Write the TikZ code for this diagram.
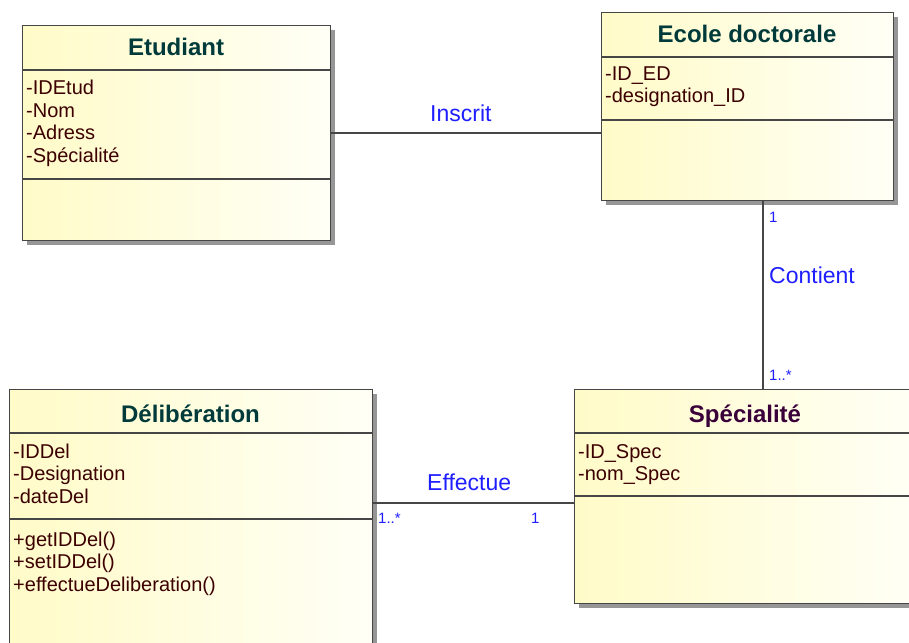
\documentclass[tikz,border=0pt]{standalone}
\usepackage{fontspec}
\setmainfont{Liberation Sans}
\usetikzlibrary{calc,shadows}
\definecolor{hdr}{RGB}{0,58,58}
\definecolor{hdrp}{RGB}{58,0,58}
\definecolor{attr}{RGB}{60,0,0}
\definecolor{lbl}{RGB}{30,30,255}
\definecolor{edgec}{RGB}{70,70,70}
\definecolor{fillA}{RGB}{255,251,200}
\definecolor{fillB}{RGB}{255,255,246}
\definecolor{shadowc}{RGB}{150,150,150}
\begin{document}
\begin{tikzpicture}[x=1pt,y=-1pt,
  classbox/.style={draw=edgec, line width=1.4pt, inner sep=0pt, anchor=north west,
    left color=fillA, right color=fillB,
    drop shadow={shadow xshift=4pt, shadow yshift=-4pt, fill=shadowc, opacity=1}},
  sepline/.style={draw=edgec, line width=1.4pt},
  title/.style={font=\fontsize{24}{28}\selectfont\bfseries, text=hdr, inner sep=0pt, anchor=base},
  attrtxt/.style={font=\fontsize{20}{23}\selectfont, text=attr, inner sep=0pt, anchor=base west},
  assoc/.style={draw=edgec, line width=1.4pt},
  rolelbl/.style={font=\fontsize{23}{26}\selectfont, text=lbl, inner sep=0pt, anchor=base west},
  multlbl/.style={font=\fontsize{15}{18}\selectfont, text=lbl, inner sep=0pt, anchor=base west}]
\useasboundingbox (0,0) rectangle (909,642);
\clip (0,0) rectangle (909,642);

% Etudiant
\node[classbox, minimum width=308pt, minimum height=215pt] (etud) at (22,25) {};
\draw[sepline] ($(etud.north west)+(0,45)$) -- ($(etud.north east)+(0,45)$);
\draw[sepline] ($(etud.north west)+(0,154)$) -- ($(etud.north east)+(0,154)$);
\node[title] (etudT) at (176,56) {Etudiant};
\node[attrtxt] (etudA1) at (26,94) {-IDEtud};
\node[attrtxt] (etudA2) at (26,117) {-Nom};
\node[attrtxt] (etudA3) at (26,139.5) {-Adress};
\node[attrtxt] (etudA4) at (26,162) {-Spécialité};

% Ecole doctorale
\node[classbox, minimum width=292pt, minimum height=188pt] (ecole) at (601,12) {};
\draw[sepline] ($(ecole.north west)+(0,45)$) -- ($(ecole.north east)+(0,45)$);
\draw[sepline] ($(ecole.north west)+(0,108)$) -- ($(ecole.north east)+(0,108)$);
\node[title] (ecoleT) at (747,43) {Ecole doctorale};
\node[attrtxt] (ecoleA1) at (605,80) {-ID\_ED};
\node[attrtxt] (ecoleA2) at (605,102.5) {-designation\_ID};

% Deliberation
\node[classbox, minimum width=363pt, minimum height=300pt] (delib) at (9,389) {};
\draw[sepline] ($(delib.north west)+(0,44)$) -- ($(delib.north east)+(0,44)$);
\draw[sepline] ($(delib.north west)+(0,130)$) -- ($(delib.north east)+(0,130)$);
\node[title] (delibT) at (190.5,422) {Délibération};
\node[attrtxt] (delibA1) at (13,458) {-IDDel};
\node[attrtxt] (delibA2) at (13,480.5) {-Designation};
\node[attrtxt] (delibA3) at (13,503) {-dateDel};
\node[attrtxt] (delibO1) at (13,546) {+getIDDel()};
\node[attrtxt] (delibO2) at (13,568.5) {+setIDDel()};
\node[attrtxt] (delibO3) at (13,591) {+effectueDeliberation()};

% Specialite
\node[classbox, minimum width=344pt, minimum height=214pt] (spec) at (574,389) {};
\draw[sepline] ($(spec.north west)+(0,44)$) -- ($(spec.north east)+(0,44)$);
\draw[sepline] ($(spec.north west)+(0,107)$) -- ($(spec.north east)+(0,107)$);
\node[title, text=hdrp] (specT) at (745,422) {Spécialité};
\node[attrtxt] (specA1) at (578,458) {-ID\_Spec};
\node[attrtxt] (specA2) at (578,480.5) {-nom\_Spec};

% Associations
\coordinate (inscA) at ($(etud.north east)+(0,108)$);
\draw[assoc] (inscA) -- (inscA -| ecole.west);
\node[rolelbl] (inscL) at (430,121) {Inscrit};

\coordinate (contA) at ($(ecole.south west)+(162,0)$);
\draw[assoc] (contA) -- (contA |- spec.north);
\node[multlbl] (contM1) at (769,222) {1};
\node[rolelbl] (contL) at (769,283) {Contient};
\node[multlbl] (contM2) at (769,380) {1..*};

\coordinate (effA) at ($(delib.north east)+(0,114)$);
\draw[assoc] (effA) -- (effA -| spec.west);
\node[rolelbl] (effL) at (427,490) {Effectue};
\node[multlbl] (effM1) at (378,523) {1..*};
\node[multlbl] (effM2) at (531,523) {1};
\end{tikzpicture}
\end{document}
